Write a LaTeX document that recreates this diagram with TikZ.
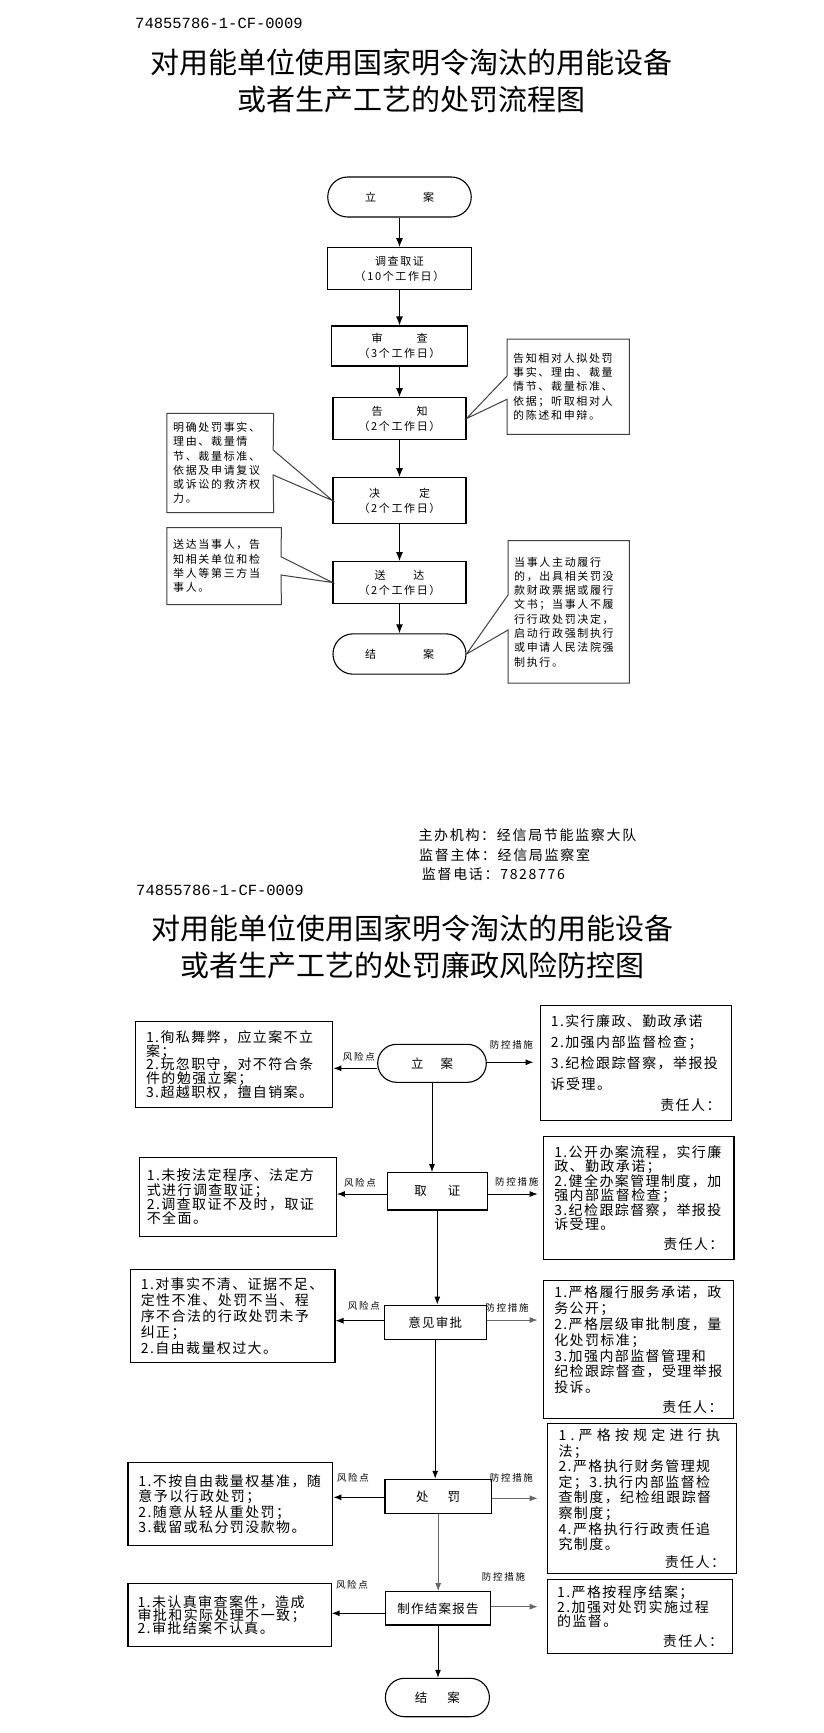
\documentclass[tikz,border=0pt]{standalone}
\usepackage{fontspec}
\setmainfont{Noto Sans CJK SC}
\newfontfamily\fcode{Liberation Mono}
\newfontfamily\fnote[LetterSpace=15]{Noto Sans CJK SC}
\newfontfamily\finfo[LetterSpace=12]{Noto Sans CJK SC}
\newfontfamily\fbx[LetterSpace=10]{Noto Sans CJK SC}
\newfontfamily\fbxw[LetterSpace=30]{Noto Sans CJK SC}
\newfontfamily\fmid[LetterSpace=10]{Noto Sans CJK SC}
\newfontfamily\flab[LetterSpace=18]{Noto Sans CJK SC}
\usetikzlibrary{arrows.meta}
\newcommand\setfs[2]{\fontsize{#1}{#2}\selectfont\lineskiplimit=-50pt\relax}
\definecolor{grayln}{HTML}{666666}
\tikzset{
  tnode/.style={draw, line width=1.1pt, inner sep=0pt, align=center, font=\fnote\setfs{11}{15}},
  arrT/.style={-{Latex[length=9pt,width=7pt]}, line width=1.1pt},
  note/.style={inner ysep=0pt, anchor=north west, align=left, font=\fnote\setfs{11}{14.3}},
  callout/.style={draw=black!75, line width=1pt, line join=miter},
  bx/.style={draw, line width=1.1pt, inner ysep=0pt, anchor=north west, align=left},
  mid/.style={draw, line width=1.1pt, inner sep=0pt, font=\fmid\setfs{12.5}{14}},
  arrB/.style={-{Latex[length=8pt,width=6pt]}, line width=1pt},
  lab/.style={inner sep=0pt, font=\flab\setfs{9.5}{11}},
  ttl/.style={inner sep=0pt, font=\setfs{29}{33}},
  code/.style={inner sep=0pt, anchor=west, font=\fcode\setfs{15.5}{18}},
  info/.style={inner sep=0pt, anchor=west, font=\finfo\setfs{14}{16}},
}
\begin{document}
\begin{tikzpicture}[x=1pt,y=-1pt]
\useasboundingbox (0,0) rectangle (823,1733);
\fill[white] (0,0) rectangle (823,1733);

% ---------- top heading ----------
\node[code] (c1) at (135,23) {74855786-1-CF-0009};
\node[ttl] (h1) at (411,62) {对用能单位使用国家明令淘汰的用能设备};
\node[ttl] (h2) at (411,100) {或者生产工艺的处罚流程图};

% ---------- flow chart ----------
\node[tnode, rounded corners=19.9pt, minimum width=143.5pt, minimum height=40pt] (t1) at (399.5,197) {立\hspace{47pt}案};
\node[tnode, minimum width=144pt, minimum height=41.6pt] (t2) at (399.5,268.5) {调查取证\\（10个工作日）};
\node[tnode, minimum width=136.5pt, minimum height=40pt] (t3) at (399.5,346) {审\hspace{34pt}查\\（3个工作日）};
\node[tnode, minimum width=133pt, minimum height=41.6pt] (t4) at (399.5,418.5) {告\hspace{34pt}知\\（2个工作日）};
\node[tnode, minimum width=133pt, minimum height=45.6pt] (t5) at (399.5,500.5) {决\hspace{39pt}定\\（2个工作日）};
\node[tnode, minimum width=133pt, minimum height=41.6pt] (t6) at (399.5,582.5) {送\hspace{28pt}达\\（2个工作日）};
\node[tnode, rounded corners=20pt, minimum width=133pt, minimum height=40.3pt] (t7) at (399.5,654) {结\hspace{47pt}案};

\draw[arrT] (t1) -- (t2);
\draw[arrT] (t2) -- (t3);
\draw[arrT] (t3) -- (t4);
\draw[arrT] (t4) -- (t5);
\draw[arrT] (t5) -- (t6);
\draw[arrT] (t6) -- (t7);

% callout notes
\node[note, inner xsep=6pt, text width=110pt, minimum width=122pt, minimum height=95pt] (n1) at (507,339)
  {告知相对人拟处罚\\事实、理由、裁量\\情节、裁量标准、\\依据；听取相对人\\的陈述和申辩。};
\coordinate (n1a) at (507,376);
\coordinate (n1b) at (507,399.3);
\draw[callout] (n1a) -- (n1.north west) -- (n1.north east) -- (n1.south east) -- (n1.south west) -- (n1b) -- (t4.east) -- cycle;

\node[note, inner xsep=6.2pt, text width=94pt, minimum width=106.4pt, minimum height=99pt] (n2) at (166.8,413.3)
  {明确处罚事实、\\理由、裁量情\\节、裁量标准、\\依据及申请复议\\或诉讼的救济权\\力。};
\coordinate (n2a) at (273.2,450);
\coordinate (n2b) at (273.2,475);
\draw[callout] (n2b) -- (n2.south east) -- (n2.south west) -- (n2.north west) -- (n2.north east) -- (n2a) -- (t5.west) -- cycle;

\node[note, inner xsep=6.2pt, text width=101.8pt, minimum width=114.2pt, minimum height=76.6pt] (n3) at (166.8,527.7)
  {送达当事人，告\\知相关单位和检\\举人等第三方当\\事人。};
\coordinate (n3a) at (281,556.7);
\coordinate (n3b) at (281,575);
\draw[callout] (n3b) -- (n3.south east) -- (n3.south west) -- (n3.north west) -- (n3.north east) -- (n3a) -- (t6.west) -- cycle;

\node[note, inner xsep=6pt, text width=109pt, minimum width=121pt, minimum height=142pt] (n4) at (508,540.7)
  {当事人主动履行\\的，出具相关罚没\\款财政票据或履行\\文书；当事人不履\\行行政处罚决定，\\启动行政强制执行\\或申请人民法院强\\制执行。};
\coordinate (n4a) at (508,595);
\coordinate (n4b) at (508,630);
\draw[callout] (n4a) -- (n4.north west) -- (n4.north east) -- (n4.south east) -- (n4.south west) -- (n4b) -- (t7.east) -- cycle;

% ---------- info ----------
\node[info] (i1) at (418.3,835) {主办机构：经信局节能监察大队};
\node[info] (i2) at (419,855) {监督主体：经信局监察室};
\node[info] (i3) at (421.7,874) {监督电话：7828776};

% ---------- second heading ----------
\node[code] (c2) at (136,890.7) {74855786-1-CF-0009};
\node[ttl] (h3) at (412.3,928.3) {对用能单位使用国家明令淘汰的用能设备};
\node[ttl] (h4) at (412.3,965) {或者生产工艺的处罚廉政风险防控图};

% ---------- risk chart: middle ----------
\node[mid, rounded corners=18.9pt, minimum width=108.6pt, minimum height=38pt] (b1) at (432,1063.3) {立\hspace{17pt}案};
\node[mid, minimum width=99.7pt, minimum height=37.3pt] (b2) at (437.3,1191.3) {取\hspace{21pt}证};
\node[mid, minimum width=102.3pt, minimum height=34.3pt] (b3) at (435.2,1322.2) {意见审批};
\node[mid, minimum width=106.4pt, minimum height=34pt] (b4) at (438.2,1496.3) {处\hspace{19pt}罚};
\node[mid, minimum width=105.2pt, minimum height=33.3pt] (b5) at (438,1608.3) {制作结案报告};
\node[mid, rounded corners=19.1pt, minimum width=104pt, minimum height=38.4pt] (b6) at (437.4,1697.5) {结\hspace{20pt}案};

\draw[arrB] (b1) -- (b1 |- b2.north);
\draw[arrB] (b2) -- (b2 |- b3.north);
\draw[arrB] (b3) -- (b3 |- b4.north);
\draw[arrB, grayln] (b4) -- (b4 |- b5.north);
\draw[arrB] (b5) -- (b5 |- b6.north);

% ---------- risk boxes (left) ----------
\node[bx, font=\fbx\setfs{14}{13.75}, inner xsep=10.5pt, text width=176.3pt, minimum width=197.3pt, minimum height=86.3pt] (lb1) at (135,1021)
  {1.徇私舞弊，应立案不立\\案；\\2.玩忽职守，对不符合条\\件的勉强立案；\\3.超越职权，擅自销案。};
\node[bx, font=\fbx\setfs{14}{14.2}, inner xsep=7.3pt, text width=182.1pt, minimum width=196.7pt, minimum height=79.3pt] (lb2) at (139,1156.7)
  {1.未按法定程序、法定方\\式进行调查取证；\\2.调查取证不及时，取证\\不全面。};
\node[bx, font=\fbx\setfs{14}{16}, inner xsep=10pt, text width=184.1pt, minimum width=204.1pt, minimum height=93pt] (lb3) at (130.3,1269.3)
  {1.对事实不清、证据不足、\\定性不准、处罚不当、程\\序不合法的行政处罚未予\\纠正；\\2.自由裁量权过大。};
\node[bx, font=\fbx\setfs{14}{15.5}, inner xsep=10.5pt, text width=183.9pt, minimum width=204.9pt, minimum height=83.3pt] (lb4) at (127.4,1461.7)
  {1.不按自由裁量权基准，随\\意予以行政处罚；\\2.随意从轻从重处罚；\\3.截留或私分罚没款物。};
\node[bx, font=\fbx\setfs{14}{13.3}, inner xsep=9.6pt, text width=184pt, minimum width=203.2pt, minimum height=62.7pt] (lb5) at (127.4,1583.3)
  {1.未认真审查案件，造成\\审批和实际处理不一致；\\2.审批结案不认真。};

% ---------- control boxes (right) ----------
\node[bx, font=\fbx\setfs{14}{20.8}, inner xsep=10.5pt, text width=169.7pt, minimum width=190.7pt, minimum height=115pt] (rb1) at (539.8,1005)
  {1.实行廉政、勤政承诺\\2.加强内部监督检查；\\3.纪检跟踪督察，举报投\\诉受理。\\\hspace*{\fill}责任人：\hspace*{4pt}};
\node[bx, font=\fbx\setfs{14}{14.5}, inner xsep=10.5pt, text width=169.2pt, minimum width=190.2pt, minimum height=123.6pt] (rb2) at (543.2,1135.7)
  {1.公开办案流程，实行廉\\政、勤政承诺；\\2.健全办案管理制度，加\\强内部监督检查；\\3.纪检跟踪督察，举报投\\诉受理。\\[5.5pt]\hspace*{\fill}责任人：\hspace*{10pt}};
\node[bx, font=\fbx\setfs{14}{15.8}, inner xsep=10.5pt, text width=168.4pt, minimum width=189.4pt, minimum height=138.3pt] (rb3) at (543.2,1280)
  {1.严格履行服务承诺，政\\务公开；\\2.严格层级审批制度，量\\化处罚标准；\\3.加强内部监督管理和\\纪检跟踪督查，受理举报\\投诉。\\[3.5pt]\hspace*{\fill}责任人：\hspace*{8pt}};
\node[bx, font=\fbx\setfs{14}{15.6}, inner xsep=11pt, text width=166.5pt, minimum width=188.5pt, minimum height=150.6pt] (rb4) at (547,1422.7)
  {{\fbxw 1.严格按规定进行执}\\法；\\2.严格执行财务管理规\\定；3.执行内部监督检\\查制度，纪检组跟踪督\\察制度；\\4.严格执行行政责任追\\究制度。\\[2pt]\hspace*{\fill}责任人：\hspace*{10pt}};
\node[bx, font=\fbx\setfs{14}{14.5}, inner xsep=9.6pt, text width=166pt, minimum width=185.2pt, minimum height=74pt] (rb5) at (547,1579.3)
  {1.严格按程序结案；\\2.加强对处罚实施过程\\的监督。\\[5.5pt]\hspace*{\fill}责任人：\hspace*{8pt}};

% ---------- horizontal arrows ----------
\coordinate (l1) at ([yshift=-5pt]b1.west);
\coordinate (r1) at ([yshift=1pt]b1.east);
\draw[arrB] (l1) -- (l1 -| lb1.east);
\draw[arrB, shorten >=6.3pt] (r1) -- (r1 -| rb1.west);

\coordinate (l2) at ([yshift=-2.7pt]b2.west);
\coordinate (r2) at ([yshift=-2.7pt]b2.east);
\draw[arrB] (l2) -- (l2 -| lb2.east);
\draw[arrB, shorten >=5.5pt] (r2) -- (r2 -| rb2.west);

\coordinate (l3) at ([yshift=1.5pt]b3.west);
\coordinate (r3) at ([yshift=2.2pt]b3.east);
\draw[arrB] (l3) -- (l3 -| lb3.east);
\draw[arrB, grayln, shorten >=5.5pt] (r3) -- (r3 -| rb3.west);

\coordinate (l4) at ([yshift=-1pt]b4.west);
\coordinate (r4) at ([yshift=-2pt]b4.east);
\draw[arrB] (l4) -- (l4 -| lb4.east);
\draw[arrB, grayln, shorten >=9.3pt] (r4) -- (r4 -| rb4.west);

\coordinate (l5) at ([yshift=-5pt]b5.west);
\coordinate (r5) at ([yshift=1.6pt]b5.east);
\draw[arrB] (l5) -- (l5 -| lb5.east);
\draw[arrB, grayln, shorten >=9.3pt] (r5) -- (r5 -| rb5.west);

% ---------- labels ----------
\node[lab] (k1) at (358.8,1056.7) {风险点};
\node[lab] (m1) at (511.4,1045) {防控措施};
\node[lab] (k2) at (360,1182.7) {风险点};
\node[lab] (m2) at (516.7,1181.7) {防控措施};
\node[lab] (k3) at (363.8,1306) {风险点};
\node[lab] (m3) at (507,1308.3) {防控措施};
\node[lab] (k4) at (353,1478.3) {风险点};
\node[lab] (m4) at (511.4,1478.3) {防控措施};
\node[lab] (k5) at (352,1585) {风险点};
\node[lab] (m5) at (503.5,1576.7) {防控措施};
\end{tikzpicture}
\end{document}
